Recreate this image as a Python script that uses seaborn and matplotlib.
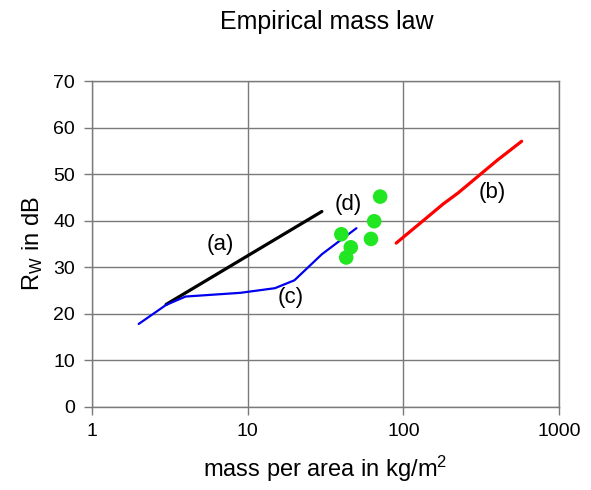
import matplotlib
matplotlib.use("Agg")
import matplotlib.pyplot as plt
import seaborn as sns
import pandas as pd

# Data
mass_a = [3, 30]
rw_a = [22, 42]

mass_b = [90, 135, 180, 225, 300, 400, 575]
rw_b = [35.2, 40.1, 43.6, 46.0, 49.5, 53.0, 57.1]

mass_c = [2, 3, 4, 9, 15, 20, 30, 50]
rw_c = [17.8, 21.9, 23.7, 24.5, 25.5, 27.2, 32.8, 38.4]

mass_d = [40, 43, 46, 62, 65, 71]
rw_d = [37.1, 32.1, 34.3, 36.1, 39.9, 45.2]

x_ticks = [1, 10, 100, 1000]
x_tick_labels = ["1", "10", "100", "1000"]
y_ticks = [0, 10, 20, 30, 40, 50, 60, 70]

sns.set_style("white")
plt.rcParams["font.family"] = ["Liberation Sans", "DejaVu Sans"]
plt.rcParams["mathtext.fontset"] = "custom"
plt.rcParams["mathtext.rm"] = "Liberation Sans"
plt.rcParams["mathtext.it"] = "Liberation Sans"
plt.rcParams["text.color"] = "black"
plt.rcParams["axes.labelcolor"] = "black"
plt.rcParams["xtick.labelcolor"] = "black"
plt.rcParams["ytick.labelcolor"] = "black"

fig = plt.figure(figsize=(5.91, 4.90), dpi=100)
ax = fig.add_axes([0.1553, 0.170, 0.946 - 0.1553, 0.834 - 0.170])

grid_col = "#7a7a7a"

df_a = pd.DataFrame({"m": mass_a, "r": rw_a})
df_b = pd.DataFrame({"m": mass_b, "r": rw_b})
df_c = pd.DataFrame({"m": mass_c, "r": rw_c})
df_d = pd.DataFrame({"m": mass_d, "r": rw_d})

sns.lineplot(data=df_a, x="m", y="r", ax=ax, color="black", linewidth=2.3,
             sort=False, estimator=None, zorder=3)
sns.lineplot(data=df_b, x="m", y="r", ax=ax, color="#ff0000", linewidth=2.3,
             sort=False, estimator=None, zorder=3)
sns.lineplot(data=df_c, x="m", y="r", ax=ax, color="#0000ee", linewidth=1.6,
             sort=False, estimator=None, zorder=3)
sns.scatterplot(data=df_d, x="m", y="r", ax=ax, color="#22e622", s=110,
                edgecolor="none", zorder=4)

ax.set_xscale("log")
ax.set_xlim(1, 1000)
ax.set_ylim(0, 70)
ax.set_xticks(x_ticks)
ax.set_xticklabels(x_tick_labels)
ax.set_yticks(y_ticks)
ax.minorticks_off()

ax.grid(True, which="major", color=grid_col, linewidth=1.0)
ax.set_axisbelow(True)
for s in ax.spines.values():
    s.set_color(grid_col)
    s.set_linewidth(1.0)
    s.set_visible(True)

ax.tick_params(axis="both", which="major", direction="out", length=6,
               width=1.0, color=grid_col, labelsize=14, pad=6,
               left=True, bottom=True, labelcolor="black")

ax.set_xlabel(r"mass per area in kg/m$^2$", fontsize=17, labelpad=10)
ax.set_ylabel(r"R$_\mathrm{W}$ in dB", fontsize=17, labelpad=6)
fig.text(0.553, 0.955, "Empirical mass law", ha="center", va="center",
         fontsize=18)

ax.text(6.7, 34.8, "(a)", fontsize=16, ha="center", va="center")
ax.text(18.8, 23.6, "(c)", fontsize=16, ha="center", va="center")
ax.text(44, 43.4, "(d)", fontsize=16, ha="center", va="center")
ax.text(370, 46.1, "(b)", fontsize=16, ha="center", va="center")

fig.savefig("out.png", dpi=100)
